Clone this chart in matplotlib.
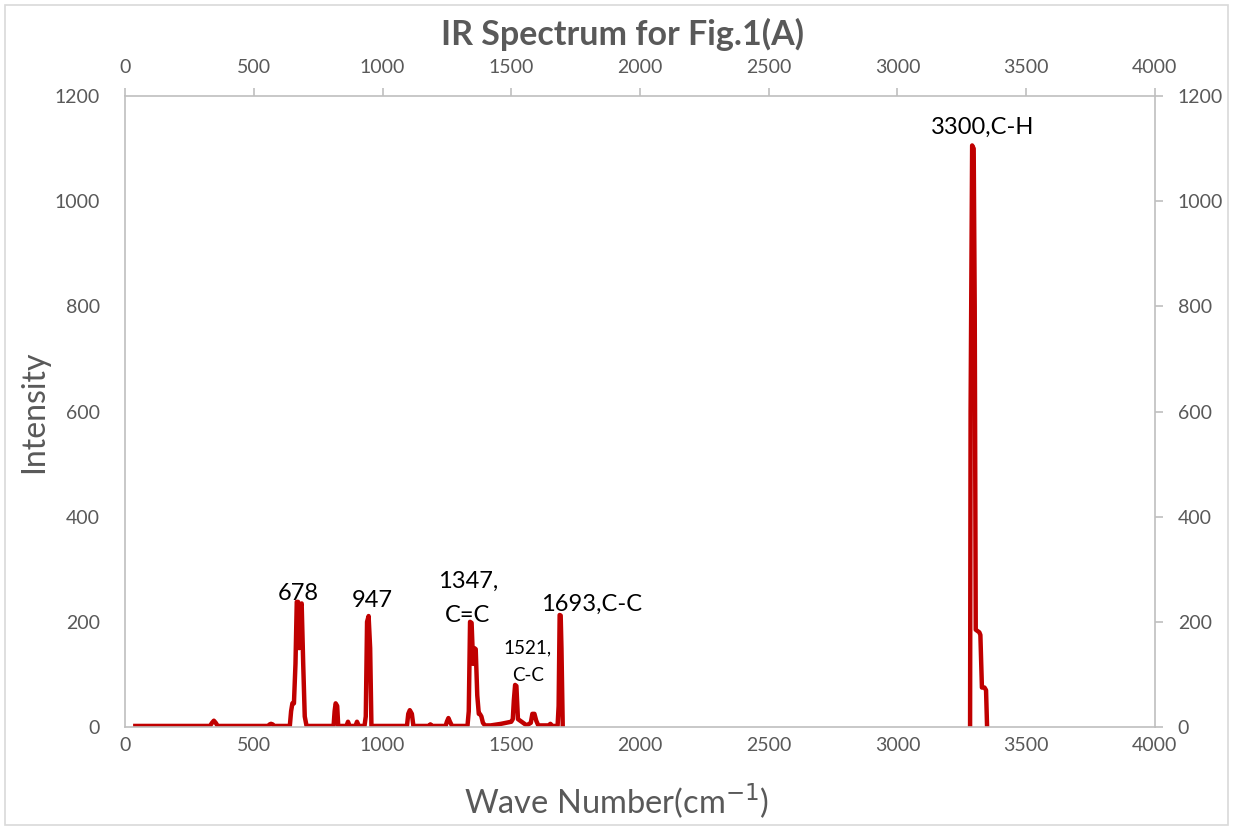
import numpy as np
import matplotlib
matplotlib.use("Agg")
import matplotlib.pyplot as plt
import matplotlib.patches as patches

plt.rcParams['font.family'] = ['Lato', 'DejaVu Sans']

# spectrum (wave number, intensity); NaN marks the gap in the data
wave = [40, 330, 338, 345, 352, 360, 555, 562, 567, 573, 580, 640, 645, 650, 656, 662, 667, 672,
        676, 680, 686, 692, 698, 705, 810, 814, 818, 824, 828, 860, 866, 872, 895, 901, 908, 930,
        935, 940, 946, 952, 957, 1095, 1100, 1106, 1114, 1120, 1180, 1186, 1192, 1245, 1250, 1256,
        1262, 1270, 1330, 1335, 1340, 1346, 1352, 1357, 1362, 1368, 1374, 1378, 1384, 1390, 1398,
        1420, 1460, 1500, 1506, 1510, 1515, 1520, 1526, 1560, 1576, 1582, 1590, 1597, 1605, 1645,
        1652, 1660, 1680, 1684, 1688, 1692, 1695, 1700,
        np.nan,
        3282, 3284, 3290, 3296, 3300, 3304, 3318, 3322, 3328, 3338, 3344, 3348]
intensity = [2, 2, 8, 12, 8, 2, 2, 5, 6, 5, 2, 2, 30, 45, 45, 120, 238, 238,
             150, 230, 235, 120, 20, 2, 2, 30, 45, 40, 2, 2, 10, 2, 2, 10, 2, 2,
             20, 200, 211, 150, 2, 2, 25, 32, 25, 2, 2, 5, 2, 2, 10, 17,
             10, 2, 2, 30, 200, 198, 120, 150, 148, 60, 25, 25, 20, 8, 3,
             3, 6, 10, 15, 50, 80, 78, 15, 3, 8, 25, 25, 12, 3, 3,
             6, 2, 2, 40, 213, 212, 150, 0,
             np.nan,
             0, 600, 1106, 1100, 800, 185, 180, 175, 75, 75, 70, 0]

peak_labels = ["678", "947", "1347,\nC=C", "1521,\nC-C", "1693,C-C", "3300,C-H"]
label_x = [672, 959, 1332, 1565, 1813, 3332]
label_y = [253, 241, 245, 125, 234, 1141]
label_size = [17, 17, 17, 13.5, 17, 17]
label_spacing = [1.2, 1.2, 1.75, 1.75, 1.2, 1.2]

xticks = np.arange(0, 4001, 500)
yticks = np.arange(0, 1201, 200)

fig = plt.figure(figsize=(12.33, 8.3), dpi=100)
fig.patches.append(patches.Rectangle((0.004, 0.006), 0.992, 0.988, transform=fig.transFigure,
                                     fill=False, ec='#d9d9d9', lw=1.2))
ax = fig.add_axes([0.1014, 0.1241, 0.8353, 0.7602])

red = '#c00000'
ax.plot(wave, intensity, color=red, lw=3.2, solid_joinstyle='round')

ax.set_xlim(0, 4000)
ax.set_ylim(0, 1200)
ax.set_xticks(xticks)
ax.set_yticks(yticks)

grey = '#595959'
axis_col = '#bfbfbf'
for side in ['top', 'right']:
    ax.spines[side].set_visible(False)
ax.spines['left'].set_color(axis_col)
ax.spines['bottom'].set_color(axis_col)
ax.spines['left'].set_linewidth(1.2)
ax.spines['bottom'].set_linewidth(1.2)
ax.tick_params(axis='x', length=0, labelsize=14, labelcolor=grey, pad=7)
ax.tick_params(axis='y', length=0, labelsize=14, labelcolor=grey, pad=18)

top = ax.secondary_xaxis('top')
top.set_xticks(xticks)
top.spines['top'].set_color(axis_col)
top.spines['top'].set_linewidth(1.2)
top.tick_params(length=5.5, width=1.2, color=axis_col, labelsize=14, labelcolor=grey, pad=9)

right = ax.secondary_yaxis('right')
right.set_yticks(yticks)
right.spines['right'].set_color(axis_col)
right.spines['right'].set_linewidth(1.2)
right.tick_params(length=5.5, width=1.2, color=axis_col, labelsize=14, labelcolor=grey, pad=11)

for txt, x, y, s, ls in zip(peak_labels, label_x, label_y, label_size, label_spacing):
    ax.text(x, y, txt, ha='center', va='center', fontsize=s, color='black', linespacing=ls)

ax.set_xlabel('Wave Number(cm$^{-1}$)', fontsize=23.5, color=grey)
ax.xaxis.set_label_coords(0.477, -0.086)
ax.set_ylabel('Intensity', fontsize=23, color=grey, labelpad=4)
fig.text(0.505, 0.958, 'IR Spectrum for Fig.1(A)', ha='center', va='center',
         fontsize=24.5, fontweight='bold', color=grey)

fig.savefig('out.png', dpi=100)
